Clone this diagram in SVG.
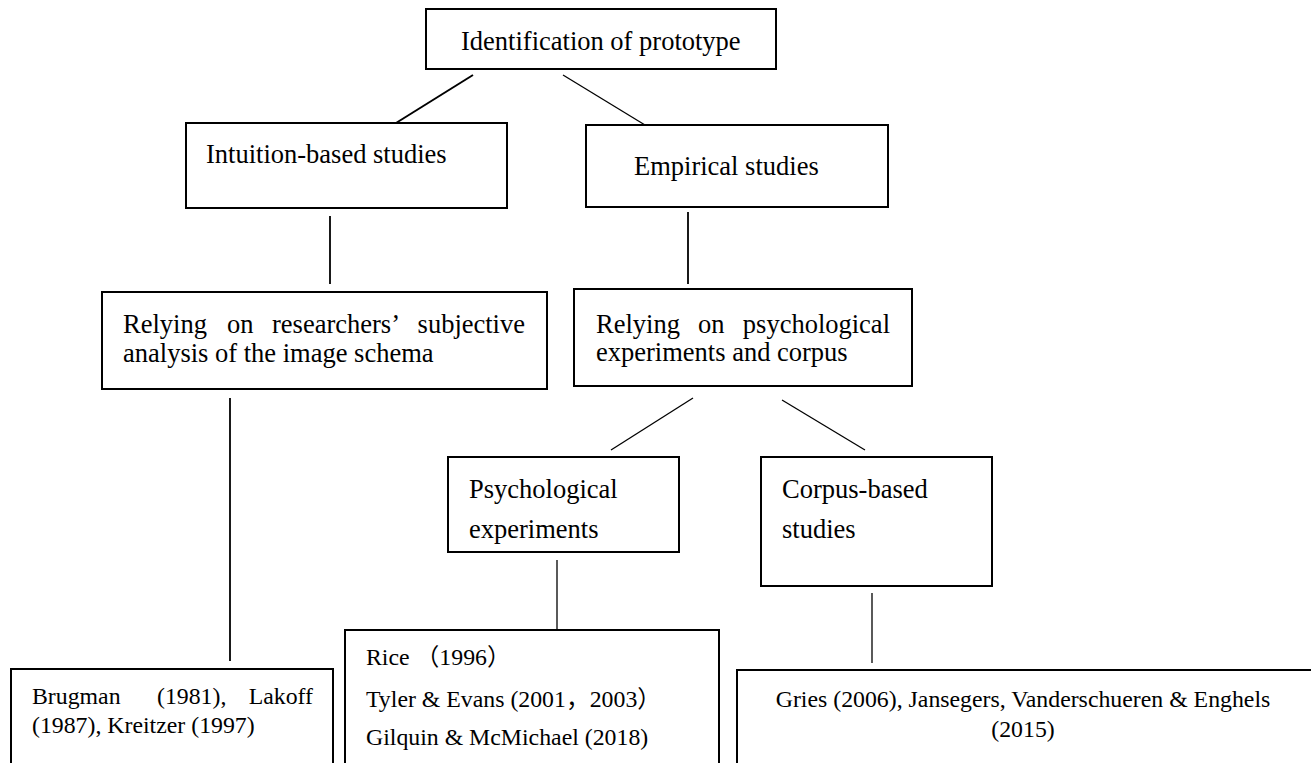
<svg xmlns="http://www.w3.org/2000/svg" width="1311" height="763" viewBox="0 0 1311 763">
<style>
.box{fill:#fff;stroke:#000;stroke-width:2}
.t{font-family:"Liberation Serif","Times New Roman","Noto Sans CJK SC",serif;font-size:26.5px;fill:#000}
.s{font-family:"Liberation Serif","Times New Roman","Noto Sans CJK SC",serif;font-size:23.8px;fill:#000}
.c{stroke:#000;fill:none}
</style>
<defs>
<clipPath id="psyclip"><rect x="449" y="458" width="229" height="92"/></clipPath>
</defs>
<rect width="1311" height="763" fill="#fff"/>
<g id="connectors">
<line class="c" x1="473" y1="75" x2="396" y2="123" stroke-width="2"/>
<line class="c" x1="563" y1="75" x2="645" y2="125" stroke-width="1.3"/>
<line class="c" x1="330" y1="216" x2="330" y2="284" stroke-width="1.8"/>
<line class="c" x1="688" y1="212" x2="688" y2="284" stroke-width="1.8"/>
<line class="c" x1="230" y1="398" x2="230" y2="661" stroke-width="1.8"/>
<line class="c" x1="693" y1="398" x2="611" y2="450" stroke-width="1.3"/>
<line class="c" x1="782" y1="400" x2="865" y2="450" stroke-width="1.3"/>
<line class="c" x1="557" y1="560" x2="557" y2="630" stroke-width="1.3"/>
<line class="c" x1="872" y1="593" x2="872" y2="663" stroke-width="1.3"/>
</g>
<g id="n-identification">
<rect class="box" x="426" y="9" width="350" height="60"/>
<text class="t" x="461" y="50">Identification of prototype</text>
</g>
<g id="n-intuition">
<rect class="box" x="186" y="123" width="321" height="85"/>
<text class="t" x="206" y="163">Intuition-based studies</text>
</g>
<g id="n-empirical">
<rect class="box" x="586" y="125" width="302" height="82"/>
<text class="t" x="634" y="175">Empirical studies</text>
</g>
<g id="n-relying-subjective">
<rect class="box" x="102" y="292" width="445" height="97"/>
<text class="t" y="333"><tspan x="123">Relying</tspan><tspan x="227">on</tspan><tspan x="272">researchers’</tspan></text>
<text class="t" x="525" y="333" text-anchor="end">subjective</text>
<text class="t" x="123" y="362">analysis of the image schema</text>
</g>
<g id="n-relying-psych">
<rect class="box" x="574" y="289" width="338" height="97"/>
<text class="t" y="333"><tspan x="596">Relying</tspan><tspan x="698">on</tspan></text>
<text class="t" x="890" y="333" text-anchor="end">psychological</text>
<text class="t" x="596" y="361">experiments and corpus</text>
</g>
<g id="n-psych">
<rect class="box" x="448" y="457" width="231" height="95"/>
<g clip-path="url(#psyclip)">
<text class="t" x="469" y="498">Psychological</text>
<text class="t" x="469" y="538">experiments</text>
</g>
</g>
<g id="n-corpus">
<rect class="box" x="761" y="457" width="231" height="129"/>
<text class="t" x="782" y="498">Corpus-based</text>
<text class="t" x="782" y="538">studies</text>
</g>
<g id="n-brugman">
<rect class="box" x="11" y="669" width="322" height="110"/>
<text class="s" y="704"><tspan x="32">Brugman</tspan><tspan x="157">(1981),</tspan></text>
<text class="s" x="313" y="704" text-anchor="end">Lakoff</text>
<text class="s" x="32" y="733">(1987), Kreitzer (1997)</text>
</g>
<g id="n-rice">
<rect class="box" x="345" y="630" width="374" height="150"/>
<text class="s" x="366" y="665">Rice （1996）</text>
<text class="s" x="366" y="707">Tyler &amp; Evans (2001，2003）</text>
<text class="s" x="366" y="745">Gilquin &amp; McMichael (2018)</text>
</g>
<g id="n-gries">
<rect class="box" x="737" y="670" width="590" height="110"/>
<text class="s" x="1023" y="707" text-anchor="middle">Gries (2006), Jansegers, Vanderschueren &amp; Enghels</text>
<text class="s" x="1023" y="737" text-anchor="middle">(2015)</text>
</g>
</svg>
